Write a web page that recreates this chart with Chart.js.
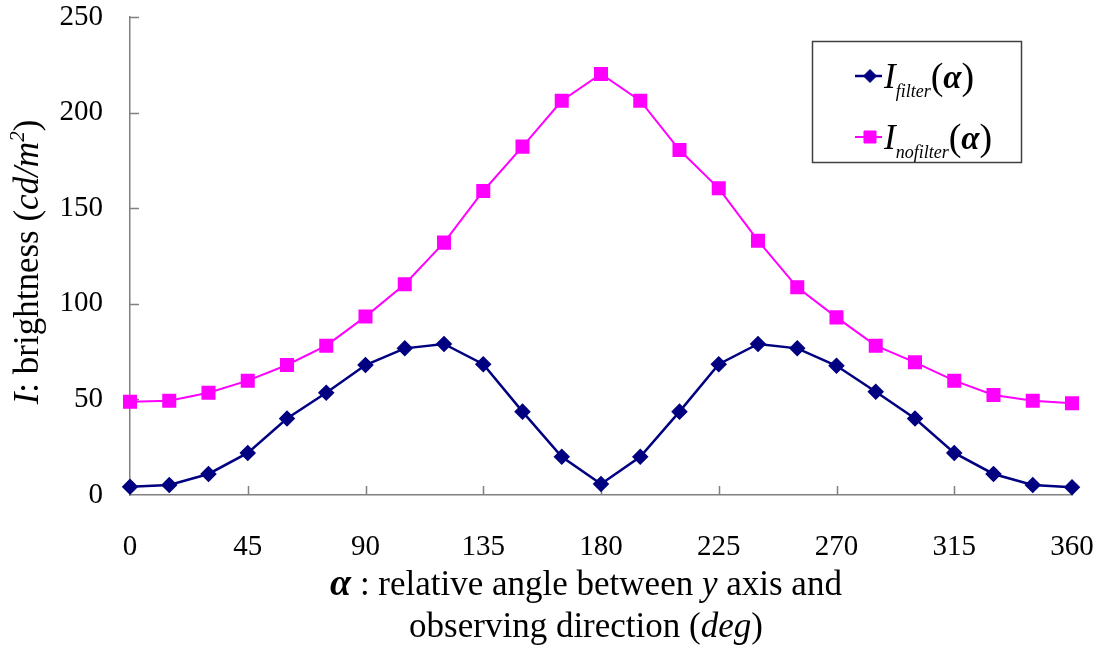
<!DOCTYPE html>
<html>
<head>
<meta charset="utf-8">
<script src="https://cdn.jsdelivr.net/npm/chart.js@4"></script>
<style>
  html, body { margin: 0; padding: 0; background: #fff; }
  #wrap { width: 1103px; height: 651px; }
</style>
</head>
<body>
<div id="wrap"><canvas id="brightChart" width="1103" height="651"></canvas></div>
<script>
// angle alpha in degrees, one point every 15 deg
const angles = [0, 15, 30, 45, 60, 75, 90, 105, 120, 135, 150, 165, 180,
                195, 210, 225, 240, 255, 270, 285, 300, 315, 330, 345, 360];
const filterValues = [4.3, 5.2, 11, 22, 40, 53.5, 68, 76.7, 79, 68.4, 43.6, 20, 5.8,
                      20, 43.6, 68.4, 79, 76.7, 67.6, 54, 40, 22, 11, 5.2, 4];
const nofilterValues = [48.8, 49.3, 53.5, 59.8, 68, 78.1, 93.3, 110.2, 132, 159, 182.2, 206.2, 220.2,
                        206.2, 180.4, 160.4, 133, 108.6, 92.9, 78.1, 69.4, 59.8, 52.3, 49.3, 48];
const xTicks = [0, 45, 90, 135, 180, 225, 270, 315, 360];
const yTicks = [0, 50, 100, 150, 200, 250];

const SERIF = '"Liberation Serif", "Times New Roman", serif';
const AXIS_GRAY = '#808080';

function toPoints(values) {
    return angles.map((a, i) => ({ x: a, y: values[i] }));
}

// draws a row of text pieces with mixed styles, centred on cx
function drawRich(ctx, parts, cx, y) {
    let total = 0;
    parts.forEach(p => { ctx.font = p.font; total += ctx.measureText(p.text).width; });
    drawRichLeft(ctx, parts, cx - total / 2, y);
}

function drawRichLeft(ctx, parts, x, y) {
    ctx.textAlign = 'left';
    ctx.textBaseline = 'alphabetic';
    parts.forEach(p => {
        ctx.font = p.font;
        ctx.fillText(p.text, x, y + (p.dy || 0));
        x += ctx.measureText(p.text).width;
    });
}

const decorations = {
    id: 'decorations',
    beforeDatasetsDraw(chart) {
        const { ctx, chartArea, scales } = chart;
        // tick marks point into the plot
        ctx.save();
        ctx.strokeStyle = AXIS_GRAY;
        ctx.lineWidth = 1.5;
        ctx.beginPath();
        xTicks.forEach(v => {
            if (v === 0) return;
            const px = Math.round(scales.x.getPixelForValue(v)) + 0.5;
            ctx.moveTo(px, chartArea.bottom);
            ctx.lineTo(px, chartArea.bottom - 9);
        });
        yTicks.forEach(v => {
            if (v === 0) return;
            const py = Math.round(scales.y.getPixelForValue(v)) + 0.5;
            ctx.moveTo(chartArea.left, py);
            ctx.lineTo(chartArea.left + 9, py);
        });
        ctx.stroke();
        ctx.restore();
    },
    afterDraw(chart) {
        const { ctx, chartArea } = chart;
        ctx.save();
        ctx.fillStyle = '#000';

        // x axis title, two lines
        const cx = 586;
        drawRich(ctx, [
            { text: '\u03B1', font: 'italic bold 38px ' + SERIF },
            { text: ' : relative angle between ', font: '35px ' + SERIF },
            { text: 'y', font: 'italic 35px ' + SERIF },
            { text: ' axis and', font: '35px ' + SERIF }
        ], cx, 595);
        drawRich(ctx, [
            { text: 'observing direction (', font: '35px ' + SERIF },
            { text: 'deg', font: 'italic 35px ' + SERIF },
            { text: ')', font: '35px ' + SERIF }
        ], cx, 637);

        // y axis title, rotated
        ctx.save();
        ctx.translate(38, 262);
        ctx.rotate(-Math.PI / 2);
        drawRich(ctx, [
            { text: 'I', font: 'italic 35px ' + SERIF },
            { text: ': brightness (', font: '35px ' + SERIF },
            { text: 'cd/m', font: 'italic 35px ' + SERIF },
            { text: '2', font: 'italic 21px ' + SERIF, dy: -14 },
            { text: ')', font: '35px ' + SERIF }
        ], 0, 0);
        ctx.restore();

        // legend box
        const bx = 812, by = 41, bw = 209, bh = 121;
        ctx.strokeStyle = '#404040';
        ctx.lineWidth = 1.5;
        ctx.strokeRect(bx + 0.5, by + 0.5, bw, bh);

        const entries = [
            { ds: chart.data.datasets[0], sub: 'filter', y: 76 },
            { ds: chart.data.datasets[1], sub: 'nofilter', y: 137 }
        ];
        entries.forEach(e => {
            ctx.strokeStyle = e.ds.borderColor;
            ctx.lineWidth = e.ds.borderWidth;
            ctx.beginPath();
            ctx.moveTo(855, e.y);
            ctx.lineTo(882, e.y);
            ctx.stroke();
            ctx.fillStyle = e.ds.pointBackgroundColor;
            ctx.strokeStyle = e.ds.pointBorderColor;
            ctx.lineWidth = 1;
            Chart.helpers.drawPoint(ctx, {
                pointStyle: e.ds.pointStyle,
                radius: e.ds.pointStyle === 'rect' ? 8.5 : 6.5,
                rotation: 0,
                borderWidth: 1
            }, 870, e.y);
            ctx.fillStyle = '#000';
            drawRichLeft(ctx, [
                { text: 'I', font: 'italic 35px ' + SERIF },
                { text: e.sub, font: 'italic 18px ' + SERIF, dy: 9 },
                { text: '(', font: '38px ' + SERIF, dy: 1 },
                { text: '\u03B1', font: 'italic bold 33px ' + SERIF },
                { text: ')', font: '38px ' + SERIF, dy: 1 }
            ], 884, e.y + 12);
        });
        ctx.restore();
    }
};

new Chart(document.getElementById('brightChart'), {
    type: 'line',
    data: {
        datasets: [
            {
                label: 'I_filter(\u03B1)',
                data: toPoints(filterValues),
                borderColor: '#000080',
                backgroundColor: '#000080',
                pointBackgroundColor: '#000080',
                pointBorderColor: '#000080',
                pointStyle: 'rectRot',
                pointRadius: 6.5,
                borderWidth: 2.5,
                tension: 0,
                clip: false
            },
            {
                label: 'I_nofilter(\u03B1)',
                data: toPoints(nofilterValues),
                borderColor: '#FF00FF',
                backgroundColor: '#FF00FF',
                pointBackgroundColor: '#FF00FF',
                pointBorderColor: '#FF00FF',
                pointStyle: 'rect',
                pointRadius: 8.5,
                borderWidth: 2,
                tension: 0,
                clip: false
            }
        ]
    },
    options: {
        responsive: false,
        animation: false,
        layout: { padding: { top: 17, right: 31, left: 0, bottom: 0 } },
        plugins: {
            legend: { display: false },
            tooltip: { enabled: false }
        },
        scales: {
            x: {
                type: 'linear',
                min: 0,
                max: 360,
                afterBuildTicks: scale => { scale.ticks = xTicks.map(v => ({ value: v })); },
                afterFit: scale => {
                    scale.height = 156;
                    scale.paddingLeft = 0;
                    scale.paddingRight = 0;
                },
                grid: { display: false, drawTicks: false },
                border: { display: true, color: AXIS_GRAY, width: 1.5 },
                ticks: {
                    color: '#000',
                    padding: 35,
                    maxRotation: 0,
                    font: { family: SERIF, size: 29 }
                }
            },
            y: {
                min: 0,
                max: 250,
                afterBuildTicks: scale => { scale.ticks = yTicks.map(v => ({ value: v })); },
                afterFit: scale => {
                    scale.width = 130;
                    scale.paddingTop = 0;
                    scale.paddingBottom = 0;
                },
                grid: { display: false, drawTicks: false },
                border: { display: true, color: AXIS_GRAY, width: 1.5 },
                ticks: {
                    color: '#000',
                    padding: 27,
                    font: { family: SERIF, size: 29 }
                }
            }
        }
    },
    plugins: [decorations]
});
</script>
</body>
</html>
